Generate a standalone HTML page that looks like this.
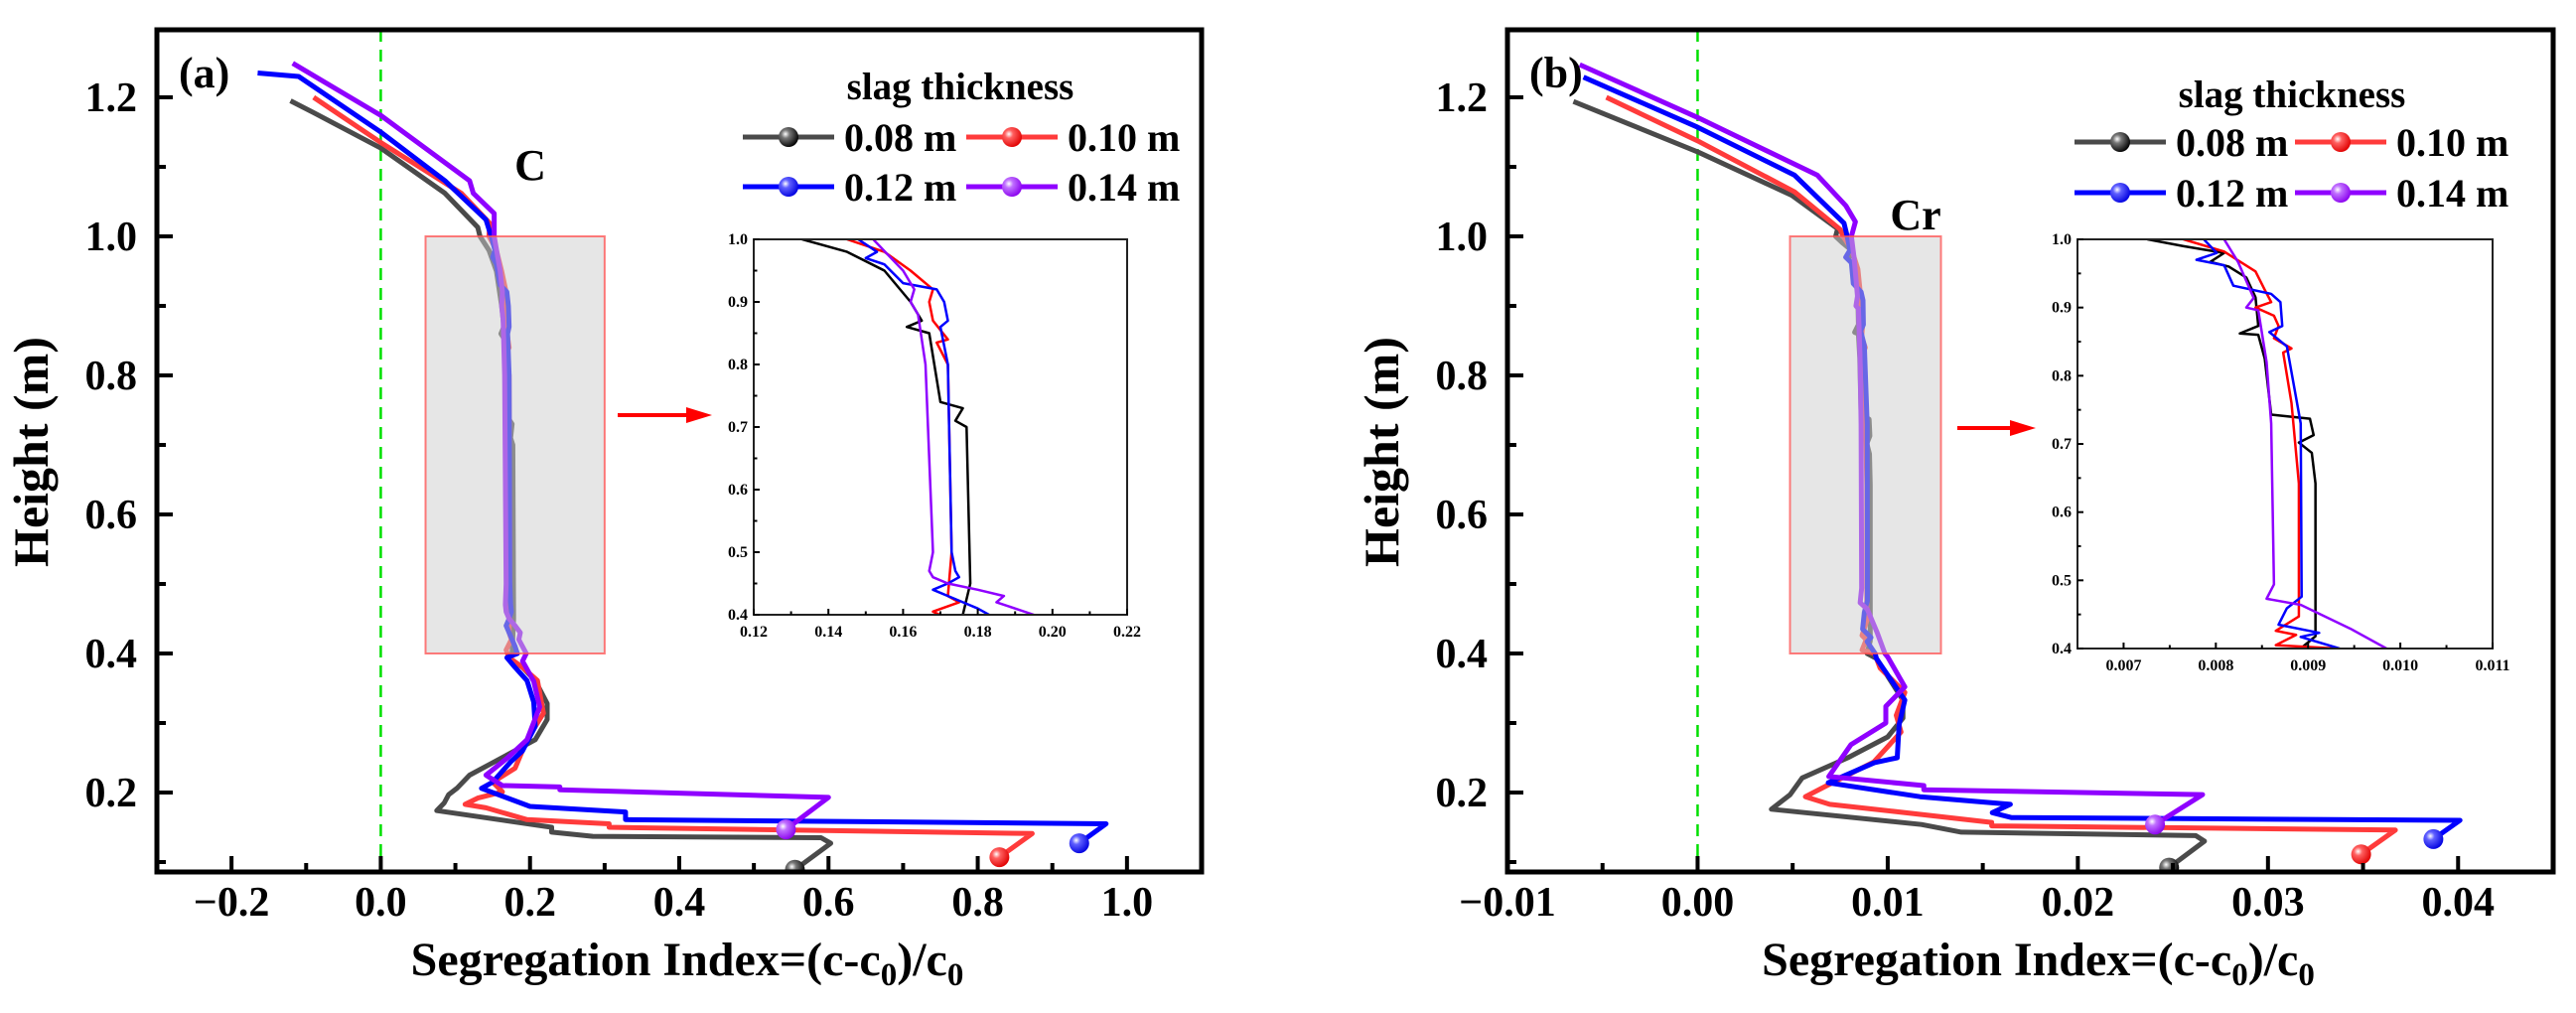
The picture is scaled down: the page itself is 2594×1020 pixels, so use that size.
<!DOCTYPE html>
<html><head><meta charset="utf-8"><style>
html,body{margin:0;padding:0;background:#fff;}
svg{display:block;}
text{font-family:"Liberation Serif",serif;font-weight:bold;fill:#000;}
</style></head><body>
<svg id="chart" width="2594" height="1020" viewBox="0 0 2594 1020" xmlns="http://www.w3.org/2000/svg">
<defs>
<radialGradient id="gk" cx="0.35" cy="0.35" r="0.7"><stop offset="0" stop-color="#fff"/><stop offset="0.3" stop-color="#777"/><stop offset="1" stop-color="#000"/></radialGradient>
<radialGradient id="gr" cx="0.35" cy="0.35" r="0.7"><stop offset="0" stop-color="#fff"/><stop offset="0.3" stop-color="#ff6060"/><stop offset="1" stop-color="#e00000"/></radialGradient>
<radialGradient id="gb" cx="0.35" cy="0.35" r="0.7"><stop offset="0" stop-color="#fff"/><stop offset="0.3" stop-color="#6060ff"/><stop offset="1" stop-color="#0000e0"/></radialGradient>
<radialGradient id="gp" cx="0.35" cy="0.35" r="0.7"><stop offset="0" stop-color="#fff"/><stop offset="0.3" stop-color="#c070ff"/><stop offset="1" stop-color="#8a00ee"/></radialGradient>
</defs>
</svg>
<script>
const seriesLabels = ["0.08 m","0.10 m","0.12 m","0.14 m"];
const cBlack = [[0.555,0.089],[0.603,0.127],[0.59,0.135],[0.284,0.137],[0.229,0.143],[0.229,0.150],[0.075,0.174],[0.085,0.185],[0.091,0.197],[0.102,0.206],[0.119,0.225],[0.152,0.244],[0.207,0.276],[0.223,0.305],[0.223,0.328],[0.207,0.361],[0.19,0.38],[0.171,0.394],[0.176,0.40],[0.178,0.45],[0.177,0.70],[0.174,0.71],[0.176,0.73],[0.170,0.74],[0.167,0.85],[0.161,0.86],[0.165,0.87],[0.162,0.9],[0.155,0.95],[0.145,0.98],[0.133,1.0],[0.13,1.013],[0.086,1.062],[0.0,1.127],[-0.09,1.178],[-0.121,1.195]];
const cRed = [[0.829,0.107],[0.873,0.141],[0.306,0.150],[0.306,0.155],[0.196,0.161],[0.141,0.178],[0.113,0.183],[0.13,0.192],[0.163,0.201],[0.15,0.215],[0.18,0.235],[0.196,0.276],[0.218,0.314],[0.21,0.361],[0.19,0.38],[0.172,0.394],[0.168,0.405],[0.175,0.42],[0.172,0.43],[0.173,0.5],[0.172,0.8],[0.169,0.835],[0.172,0.84],[0.168,0.87],[0.167,0.9],[0.168,0.92],[0.162,0.95],[0.155,0.98],[0.145,1.0],[0.146,1.019],[0.108,1.062],[0.0,1.135],[-0.09,1.2]];
const cBlue = [[0.936,0.127],[0.972,0.155],[0.328,0.161],[0.328,0.172],[0.2,0.18],[0.135,0.206],[0.15,0.215],[0.174,0.244],[0.19,0.26],[0.207,0.295],[0.205,0.33],[0.196,0.361],[0.18,0.38],[0.169,0.394],[0.183,0.40],[0.18,0.41],[0.176,0.42],[0.168,0.44],[0.172,0.45],[0.175,0.46],[0.174,0.47],[0.173,0.5],[0.172,0.8],[0.170,0.86],[0.172,0.87],[0.171,0.9],[0.169,0.92],[0.160,0.93],[0.155,0.96],[0.150,0.97],[0.153,0.98],[0.148,1.0],[0.141,1.024],[0.086,1.08],[0.0,1.15],[-0.11,1.23],[-0.165,1.235]];
const cPurple = [[0.543,0.147],[0.6,0.193],[0.24,0.204],[0.24,0.208],[0.163,0.21],[0.141,0.225],[0.17,0.25],[0.196,0.276],[0.213,0.323],[0.205,0.36],[0.19,0.389],[0.195,0.40],[0.190,0.41],[0.185,0.42],[0.187,0.43],[0.180,0.44],[0.172,0.45],[0.168,0.46],[0.167,0.47],[0.168,0.5],[0.166,0.8],[0.164,0.88],[0.162,0.9],[0.163,0.92],[0.16,0.95],[0.152,1.0],[0.152,1.033],[0.124,1.062],[0.119,1.08],[0.0,1.174],[-0.118,1.249]];
const crBlack = [[0.0248,0.092],[0.02666,0.130],[0.0262,0.138],[0.01387,0.143],[0.01177,0.154],[0.00388,0.176],[0.00487,0.197],[0.0055,0.221],[0.0079,0.25],[0.0100,0.28],[0.0108,0.307],[0.0108,0.333],[0.0094,0.393],[0.00892,0.40],[0.00908,0.418],[0.00908,0.642],[0.00904,0.687],[0.0089,0.702],[0.00906,0.713],[0.00902,0.737],[0.0086,0.743],[0.00853,0.825],[0.00846,0.86],[0.00826,0.862],[0.00846,0.873],[0.00843,0.915],[0.00833,0.944],[0.00814,0.96],[0.00794,0.967],[0.00809,0.98],[0.00765,0.99],[0.00726,1.0],[0.00737,1.011],[0.00496,1.059],[0.00005,1.121],[-0.00653,1.194]];
const crRed = [[0.0349,0.111],[0.0367,0.146],[0.01547,0.152],[0.01547,0.157],[0.01027,0.173],[0.00695,0.183],[0.00567,0.194],[0.0068,0.21],[0.00927,0.244],[0.0107,0.287],[0.01045,0.311],[0.0109,0.344],[0.0096,0.379],[0.00931,0.40],[0.00865,0.405],[0.00887,0.42],[0.00865,0.426],[0.0089,0.447],[0.0089,0.642],[0.00882,0.76],[0.00873,0.834],[0.00882,0.84],[0.00863,0.855],[0.00868,0.873],[0.00863,0.888],[0.00843,0.9],[0.0086,0.908],[0.00853,0.926],[0.00843,0.953],[0.00809,0.982],[0.00765,1.0],[0.0075,1.01],[0.0051,1.064],[0.0001,1.136],[-0.0048,1.2]];
const crBlue = [[0.0387,0.133],[0.0401,0.16],[0.0165,0.164],[0.0155,0.171],[0.01645,0.183],[0.0117,0.194],[0.00687,0.214],[0.0093,0.243],[0.0105,0.25],[0.0106,0.298],[0.0109,0.333],[0.0094,0.393],[0.00934,0.40],[0.00892,0.417],[0.00912,0.423],[0.00868,0.435],[0.00877,0.459],[0.00893,0.476],[0.00892,0.73],[0.00877,0.843],[0.00858,0.864],[0.00872,0.873],[0.0087,0.908],[0.0086,0.92],[0.00819,0.932],[0.00809,0.962],[0.00779,0.97],[0.00801,0.98],[0.00787,1.0],[0.0077,1.019],[0.0051,1.088],[0.0,1.157],[-0.006,1.229]];
const crPurple = [[0.02406,0.154],[0.02656,0.197],[0.0119,0.204],[0.0119,0.21],[0.0069,0.223],[0.00807,0.269],[0.0099,0.3],[0.0099,0.324],[0.0109,0.352],[0.0100,0.395],[0.00985,0.40],[0.00946,0.429],[0.00892,0.464],[0.00855,0.473],[0.00863,0.494],[0.0086,0.73],[0.00855,0.82],[0.00846,0.896],[0.00833,0.9],[0.00841,0.914],[0.00824,0.967],[0.00809,1.0],[0.0083,1.021],[0.0078,1.044],[0.0063,1.088],[0.0,1.171],[-0.0062,1.247]];
const mainYTicks = [0.2,0.4,0.6,0.8,1.0,1.2];
const cXTicks = [-0.2,0.0,0.2,0.4,0.6,0.8,1.0];
const cXLabels = ["\u22120.2","0.0","0.2","0.4","0.6","0.8","1.0"];
const crXTicks = [-0.01,0.0,0.01,0.02,0.03,0.04];
const crXLabels = ["\u22120.01","0.00","0.01","0.02","0.03","0.04"];
const insetYTicks = [0.4,0.5,0.6,0.7,0.8,0.9,1.0];
const cInsetXTicks = [0.12,0.14,0.16,0.18,0.20,0.22];
const crInsetXTicks = [0.007,0.008,0.009,0.010,0.011];

const NS="http://www.w3.org/2000/svg";
const svg=document.getElementById('chart');
function mk(tag,attrs,parent){const e=document.createElementNS(NS,tag);for(const k in attrs)e.setAttribute(k,attrs[k]);(parent||svg).appendChild(e);return e;}
function lin(d0,d1,r0,r1){return v=>r0+(v-d0)/(d1-d0)*(r1-r0);}
const colors=["#4a4a4a","#ff3b3b","#0000ff","#8f00ff"];
const icolors=["#000","#ff0000","#0000ff","#8f00ff"];
const grads=["url(#gk)","url(#gr)","url(#gb)","url(#gp)"];
const names=["black","red","blue","purple"];

function panel(p){
  const g=mk('g',{});
  
  
  const X=lin(p.xd[0],p.xd[1],p.L,p.R), Y=lin(1.2,0.2,98,798);
  const T=30,B=878;
  const cp=mk('clipPath',{id:'clip-'+p.id},g);
  mk('rect',{x:p.L,y:T,width:p.R-p.L,height:B-T},cp);
  const z=mk('line',{x1:X(0),x2:X(0),y1:T,y2:B,stroke:'#00e000','stroke-width':2.5,'stroke-dasharray':'12,8'},g);
  
  
  const cg=mk('g',{'clip-path':'url(#clip-'+p.id+')'},g);
  p.series.forEach((s,i)=>{
    const pl=mk('polyline',{points:s.map(q=>X(q[0])+','+Y(q[1])).join(' '),fill:'none',stroke:colors[i],'stroke-width':5,'stroke-linejoin':'round'},cg);
    
    
  });
  p.series.forEach((s,i)=>{
    const c=mk('circle',{cx:X(s[0][0]),cy:Y(s[0][1]),r:10,fill:grads[i]},cg);
    
    
  });
  const hr=mk('rect',{x:X(p.rect[0]),y:Y(1.0),width:X(p.rect[1])-X(p.rect[0]),height:Y(0.4)-Y(1.0),fill:'rgba(205,205,205,0.5)',stroke:'rgba(255,80,80,0.75)','stroke-width':2},g);
  
  
  const ab=mk('rect',{x:p.L,y:T,width:p.R-p.L,height:B-T,fill:'none',stroke:'#000','stroke-width':5},g);
  
  
  p.xt.forEach((v,i)=>{
    mk('line',{x1:X(v),x2:X(v),y1:B,y2:B-16,stroke:'#000','stroke-width':4},g);
    const t=mk('text',{x:X(v),y:B+44,'font-size':42,'text-anchor':'middle'},g);t.textContent=p.xl[i];
    
    
    if(i<p.xt.length-1){const m=(v+p.xt[i+1])/2;mk('line',{x1:X(m),x2:X(m),y1:B,y2:B-9,stroke:'#000','stroke-width':4},g);}
  });
  const mm=p.xt[0]-(p.xt[1]-p.xt[0])/2; if(X(mm)>p.L) mk('line',{x1:X(mm),x2:X(mm),y1:B,y2:B-9,stroke:'#000','stroke-width':4},g);
  const mx=p.xt[p.xt.length-1]+(p.xt[1]-p.xt[0])/2; if(X(mx)<p.R) mk('line',{x1:X(mx),x2:X(mx),y1:B,y2:B-9,stroke:'#000','stroke-width':4},g);
  mainYTicks.forEach(v=>{
    mk('line',{x1:p.L,x2:p.L+16,y1:Y(v),y2:Y(v),stroke:'#000','stroke-width':4},g);
    const t=mk('text',{x:p.L-20,y:Y(v)+14,'font-size':42,'text-anchor':'end'},g);t.textContent=v.toFixed(1);
    
    
    const m=v-0.1; if(Y(m)<B)mk('line',{x1:p.L,x2:p.L+9,y1:Y(m),y2:Y(m),stroke:'#000','stroke-width':4},g);
  });
  const xt=mk('text',{x:(p.L+p.R)/2+8,y:982,'font-size':48,'text-anchor':'middle'},g);
  xt.innerHTML='Segregation Index=(c-c<tspan font-size="33" dy="10">0</tspan><tspan dy="-10">)/c</tspan><tspan font-size="33" dy="10">0</tspan>';
  
  
  const yt=mk('text',{x:0,y:0,'font-size':50,'text-anchor':'middle',transform:'translate('+(p.L-110)+',455) rotate(-90)'},g);
  yt.textContent='Height (m)';
  
  
  const pl=mk('text',{x:p.L+22,y:88,'font-size':44},g);pl.textContent=p.tag;
  
  
  const el=mk('text',{x:p.elx,y:p.ely,'font-size':44,'text-anchor':'middle'},g);el.textContent=p.el;
  
  
  const ar=mk('g',{},g);
  
  
  mk('line',{x1:p.arr[0],x2:p.arr[1]-18,y1:p.arr[2],y2:p.arr[2],stroke:'#ff0000','stroke-width':4},ar);
  mk('polygon',{points:(p.arr[1])+','+p.arr[2]+' '+(p.arr[1]-26)+','+(p.arr[2]-8)+' '+(p.arr[1]-26)+','+(p.arr[2]+8),fill:'#ff0000'},ar);
  const lg=mk('g',{},g);
  
  
  const lt=mk('text',{x:p.leg.tx,y:p.leg.ty,'font-size':39,'text-anchor':'middle'},lg);lt.textContent='slag thickness';
  
  
  seriesLabels.forEach((lab,i)=>{
    const col=i%2,row=Math.floor(i/2);
    const x0=p.leg.x[col], y0=p.leg.y[row];
    const e=mk('g',{},lg);
    
    
    mk('line',{x1:x0,x2:x0+92,y1:y0,y2:y0,stroke:colors[i],'stroke-width':5},e);
    mk('circle',{cx:x0+46,cy:y0,r:10,fill:grads[i]},e);
    const t=mk('text',{x:x0+102,y:y0+14,'font-size':40},e);t.textContent=lab;
  });
  const I=p.inset;
  const ig=mk('g',{},g);
  
  
  const IX=lin(I.xd[0],I.xd[1],I.L,I.R), IY=lin(1.0,0.4,I.T,I.B);
  mk('rect',{x:I.L,y:I.T,width:I.R-I.L,height:I.B-I.T,fill:'#fff'},ig);
  const ic=mk('clipPath',{id:'iclip-'+p.id},ig);
  mk('rect',{x:I.L,y:I.T,width:I.R-I.L,height:I.B-I.T},ic);
  const icg=mk('g',{'clip-path':'url(#iclip-'+p.id+')'},ig);
  p.series.forEach((s,i)=>{
    const pl2=mk('polyline',{points:s.map(q=>IX(q[0])+','+IY(q[1])).join(' '),fill:'none',stroke:icolors[i],'stroke-width':2.5,'stroke-linejoin':'round'},icg);
    
    
  });
  mk('rect',{x:I.L,y:I.T,width:I.R-I.L,height:I.B-I.T,fill:'none',stroke:'#222','stroke-width':2},ig);
  insetYTicks.forEach(v=>{
    mk('line',{x1:I.L,x2:I.L+6,y1:IY(v),y2:IY(v),stroke:'#000','stroke-width':2},ig);
    if(v<1.0)mk('line',{x1:I.L,x2:I.L+3.5,y1:IY(v+0.05),y2:IY(v+0.05),stroke:'#000','stroke-width':2},ig);
    const t=mk('text',{x:I.L-6,y:IY(v)+5,'font-size':16,'text-anchor':'end'},ig);t.textContent=v.toFixed(1);
  });
  I.xt.forEach((v,i)=>{
    mk('line',{x1:IX(v),x2:IX(v),y1:I.B,y2:I.B-6,stroke:'#000','stroke-width':2},ig);
    const m=v-I.step/2; if(IX(m)>I.L+1) mk('line',{x1:IX(m),x2:IX(m),y1:I.B,y2:I.B-3.5,stroke:'#000','stroke-width':2},ig);
    const t=mk('text',{x:IX(v),y:I.B+22,'font-size':16,'text-anchor':'middle'},ig);t.textContent=v.toFixed(I.dec);
  });
}
panel({id:'carbon',tag:'(a)',el:'C',elx:534,ely:181,L:158,R:1210,xd:[-0.3,1.1],series:[cBlack,cRed,cBlue,cPurple],
  xt:cXTicks,xl:cXLabels,rect:[0.06,0.30],arr:[622,717,418],
  leg:{tx:967,ty:100,x:[748,973],y:[138,188]},
  inset:{L:759,R:1135,T:241,B:619,xd:[0.12,0.22],xt:cInsetXTicks,step:0.02,dec:2}});
panel({id:'chromium',tag:'(b)',el:'Cr',elx:1929,ely:231,L:1518,R:2571,xd:[-0.01,0.045],series:[crBlack,crRed,crBlue,crPurple],
  xt:crXTicks,xl:crXLabels,rect:[0.00486,0.0128],arr:[1971,2050,431],
  leg:{tx:2308,ty:108,x:[2089,2311],y:[143,194]},
  inset:{L:2092,R:2510,T:241,B:653,xd:[0.0065,0.011],xt:crInsetXTicks,step:0.001,dec:3}});
</script>
</body></html>
